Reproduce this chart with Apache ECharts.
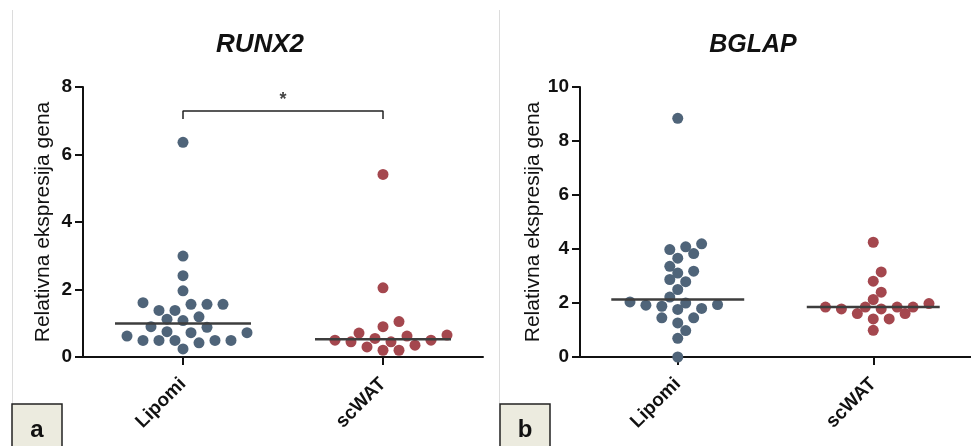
<!DOCTYPE html>
<html>
<head>
<meta charset="utf-8">
<script src="https://cdn.jsdelivr.net/npm/echarts@6/dist/echarts.min.js"></script>
<style>
  html, body { margin: 0; padding: 0; background: #ffffff; }
  #chart { width: 971px; height: 446px; }
</style>
</head>
<body>
<div id="chart"></div>
<script>
// Groups on the x axis
const groups = ['Lipomi', 'scWAT'];

// RUNX2 relative expression per sample
const runx2Lipomi = [6.36, 2.99, 2.41, 1.96, 1.61, 1.56, 1.56, 1.56, 1.38, 1.38, 1.19, 1.12, 1.08,
                     0.90, 0.88, 0.75, 0.72, 0.72, 0.62, 0.49, 0.49, 0.49, 0.49, 0.49, 0.42, 0.24];
const runx2ScWAT = [5.41, 2.05, 1.05, 0.90, 0.71, 0.65, 0.62, 0.55, 0.50, 0.50, 0.45, 0.45,
                    0.35, 0.30, 0.20, 0.20];

// BGLAP relative expression per sample
const bglapLipomi = [8.84, 4.19, 4.08, 3.98, 3.83, 3.66, 3.36, 3.18, 3.11, 2.87, 2.79, 2.50, 2.22,
                     2.04, 2.00, 1.92, 1.94, 1.88, 1.80, 1.76, 1.45, 1.45, 1.26, 0.98, 0.69, 0.0];
const bglapScWAT = [4.25, 3.15, 2.81, 2.40, 2.13, 1.98, 1.85, 1.85, 1.85, 1.85, 1.78, 1.78,
                    1.61, 1.61, 1.41, 1.41, 0.99];

// Value axis ranges
const runx2Axis = { max: 8, step: 2 };
const bglapAxis = { max: 10, step: 2 };

// Significance bracket between the two RUNX2 groups
const runx2Bracket = { from: 0, to: 1, low: 7.05, high: 7.29, text: '*' };

const FONT = "'Liberation Sans', Arial, Helvetica, sans-serif";
const BLUE = '#4f6479';
const RED = '#a4474e';

// plot areas (pixels)
const grids = [
  { left: 83, top: 87, width: 400, height: 270 },
  { left: 580, top: 87, width: 393, height: 270 }
];

function median(arr) {
  const s = arr.slice().sort((a, b) => a - b);
  const n = s.length;
  return n % 2 ? s[(n - 1) / 2] : (s[n / 2 - 1] + s[n / 2]) / 2;
}

// Greedy dot-swarm: each value takes the closest free horizontal slot
function swarm(vals, unitPx, step, minD) {
  const order = vals.map((v, i) => i).sort((a, b) => vals[a] - vals[b]);
  const placed = [];
  const off = new Array(vals.length).fill(0);
  order.forEach(i => {
    const y = vals[i] * unitPx;
    for (let k = 0; k < 200; k++) {
      const cands = k === 0 ? [0] : [k * step, -k * step];
      let found = null;
      for (const x of cands) {
        if (placed.every(p => Math.hypot(p.x - x, p.y - y) >= minD)) { found = x; break; }
      }
      if (found !== null) { off[i] = found; placed.push({ x: found, y: y }); break; }
    }
  });
  return off;
}

function dots(vals, groupIdx, grid, axis, minD) {
  const unitPx = grid.height / axis.max;
  const halfW = grid.width / 2;
  const off = swarm(vals, unitPx, 8, minD);
  return vals.map((v, i) => [groupIdx + 0.5 + off[i] / halfW, v]);
}

function medianLine(vals, groupIdx) {
  const m = median(vals);
  return [[groupIdx + 0.5 - 0.34, m], [groupIdx + 0.5 + 0.34, m]];
}

const axisLine = { lineStyle: { color: '#111', width: 2 } };
const tickLabel = { color: '#111', fontFamily: FONT, fontWeight: 'bold', fontSize: 19 };

function yAxisFor(gridIndex, axis) {
  return {
    type: 'value', gridIndex: gridIndex, min: 0, max: axis.max, interval: axis.step,
    name: 'Relativna ekspresija gena', nameLocation: 'middle', nameGap: 29,
    nameTextStyle: { color: '#111', fontFamily: FONT, fontSize: 21, fontWeight: 'normal' },
    axisLine: Object.assign({ show: true }, axisLine),
    axisTick: { show: true, length: 8, lineStyle: { color: '#111', width: 2 } },
    axisLabel: Object.assign({ margin: 11 }, tickLabel),
    splitLine: { show: false }
  };
}

function catAxisFor(gridIndex) {
  return {
    type: 'category', gridIndex: gridIndex, data: groups, boundaryGap: true,
    axisLine: axisLine,
    axisTick: { show: true, alignWithLabel: true, length: 8, lineStyle: { color: '#111', width: 2 } },
    axisLabel: Object.assign({ rotate: 45, margin: 24 }, tickLabel),
    splitLine: { show: false }
  };
}

function valXAxisFor(gridIndex) {
  return { type: 'value', gridIndex: gridIndex, min: 0, max: 2, show: false };
}

const panels = [
  { grid: grids[0], axis: runx2Axis, a: runx2Lipomi, b: runx2ScWAT, gap: 11.5 },
  { grid: grids[1], axis: bglapAxis, a: bglapLipomi, b: bglapScWAT, gap: 10 }
];

const series = [];
panels.forEach((p, gi) => {
  const xv = gi * 2 + 1;
  [[p.a, BLUE, 0], [p.b, RED, 1]].forEach(([vals, color, idx]) => {
    series.push({
      type: 'scatter', xAxisIndex: xv, yAxisIndex: gi, symbolSize: 11,
      itemStyle: { color: color, opacity: 1 }, data: dots(vals, idx, p.grid, p.axis, p.gap), z: 2
    });
    series.push({
      type: 'line', xAxisIndex: xv, yAxisIndex: gi, symbol: 'none', silent: true,
      lineStyle: { color: '#3d3d3d', width: 2.5 }, data: medianLine(vals, idx), z: 3
    });
  });
});

// bracket with the significance mark
const br = runx2Bracket;
series.push({
  type: 'line', xAxisIndex: 1, yAxisIndex: 0, symbol: 'none', silent: true,
  lineStyle: { color: '#222', width: 1.5 },
  data: [[br.from + 0.5, br.low], [br.from + 0.5, br.high], [br.to + 0.5, br.high], [br.to + 0.5, br.low]]
});
series.push({
  type: 'scatter', xAxisIndex: 1, yAxisIndex: 0, symbolSize: 0, silent: true,
  label: { show: true, position: 'top', distance: 2, formatter: br.text, color: '#111',
           fontFamily: FONT, fontWeight: 'bold', fontSize: 18 },
  data: [[(br.from + br.to) / 2 + 0.5, br.high]]
});

function boxLetter(x, letter) {
  return [
    { type: 'rect', shape: { x: x, y: 404, width: 50, height: 50 },
      style: { fill: '#ecebdf', stroke: '#222', lineWidth: 1.5 }, z: 10 },
    { type: 'text', x: x + 25, y: 430, z: 11,
      style: { text: letter, font: 'bold 24px ' + FONT, fill: '#111',
               textAlign: 'center', textVerticalAlign: 'middle' } }
  ];
}

const option = {
  animation: false,
  backgroundColor: '#ffffff',
  grid: grids.map(g => Object.assign({ containLabel: false }, g)),
  xAxis: [catAxisFor(0), valXAxisFor(0), catAxisFor(1), valXAxisFor(1)],
  yAxis: [yAxisFor(0, runx2Axis), yAxisFor(1, bglapAxis)],
  series: series,
  graphic: [
    { type: 'line', shape: { x1: 12.5, y1: 10, x2: 12.5, y2: 404 }, style: { stroke: '#dcdcdc', lineWidth: 1 } },
    { type: 'line', shape: { x1: 499.5, y1: 10, x2: 499.5, y2: 404 }, style: { stroke: '#dcdcdc', lineWidth: 1 } },
    { type: 'text', x: 260, y: 45, style: { text: 'RUNX2', font: 'italic bold 26px ' + FONT, fill: '#111',
      textAlign: 'center', textVerticalAlign: 'middle' } },
    { type: 'text', x: 753, y: 45, style: { text: 'BGLAP', font: 'italic bold 25px ' + FONT, fill: '#111',
      textAlign: 'center', textVerticalAlign: 'middle' } }
  ].concat(boxLetter(12, 'a'), boxLetter(500, 'b'))
};

const chart = echarts.init(document.getElementById('chart'), null, { renderer: 'canvas' });
chart.setOption(option);
</script>
</body>
</html>
